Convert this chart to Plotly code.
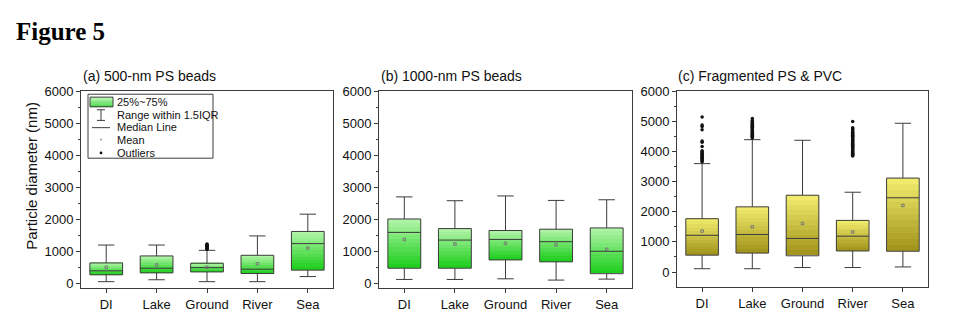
import plotly.graph_objects as go

W, H = 955, 325

categories = ["DI", "Lake", "Ground", "River", "Sea"]

# (a) 500-nm PS beads
a_lower = [50, 110, 50, 50, 210]
a_q1 = [265, 325, 355, 305, 410]
a_median = [390, 470, 490, 440, 1240]
a_q3 = [635, 855, 625, 875, 1620]
a_upper = [1195, 1195, 1030, 1480, 2160]
a_mean = [500, 570, 500, 610, 1100]
a_outliers = {"Ground": [1060, 1090, 1110, 1130, 1150, 1170, 1190, 1210, 1230]}

# (b) 1000-nm PS beads
b_lower = [120, 120, 140, 100, 130]
b_q1 = [470, 470, 730, 670, 300]
b_median = [1590, 1350, 1370, 1300, 1000]
b_q3 = [2010, 1710, 1650, 1690, 1730]
b_upper = [2700, 2580, 2730, 2590, 2610]
b_mean = [1370, 1230, 1250, 1200, 1060]
b_outliers = {}

# (c) Fragmented PS & PVC
c_lower = [110, 110, 150, 150, 170]
c_q1 = [560, 630, 540, 700, 690]
c_median = [1220, 1245, 1115, 1190, 2465]
c_q3 = [1770, 2165, 2550, 1715, 3120]
c_upper = [3600, 4395, 4375, 2650, 4940]
c_mean = [1360, 1500, 1610, 1330, 2210]
c_outliers = {
    "DI": [3660, 3690, 3720, 3750, 3780, 3810, 3840, 3870, 3900, 3930, 3960,
           3990, 4030, 4170, 4310, 4350, 4720, 4830, 4880, 5150],
    "Lake": [4450, 4480, 4510, 4540, 4570, 4600, 4630, 4660, 4690, 4720, 4750,
             4780, 4810, 4840, 4870, 4900, 4930, 4960, 4990, 5030, 5100],
    "River": [3850, 3880, 3910, 3940, 3970, 4000, 4030, 4060, 4090, 4120, 4150,
              4180, 4210, 4240, 4270, 4300, 4330, 4360, 4390, 4420, 4450, 4480,
              4510, 4540, 4570, 4600, 4640, 4680, 4720, 4760, 4790, 5000],
}

titles = ["(a) 500-nm PS beads", "(b) 1000-nm PS beads", "(c) Fragmented PS & PVC"]
y_title = "Particle diameter (nm)"
legend_labels = ["25%~75%", "Range within 1.5IQR", "Median Line", "Mean", "Outliers"]

GREEN = ((25, 205, 25), (182, 246, 172))     # bottom, top
YELLOW = ((160, 145, 25), (243, 239, 112))
EDGE = "#3c3c3c"
FONT = "Liberation Sans, Arial, sans-serif"
BOX_W = 0.65
N_BANDS = 12


def px_x(x):
    return x / W


def px_y(y):
    return 1 - y / H


def mix(c0, c1, t):
    return "rgb({},{},{})".format(*[round(a + (b - a) * t) for a, b in zip(c0, c1)])


panels = [
    dict(lower=a_lower, q1=a_q1, med=a_median, q3=a_q3, upper=a_upper, mean=a_mean,
         out=a_outliers, colors=GREEN, xdom=(81, 333), ydom=(87, 290), yrange=(-150, 6000)),
    dict(lower=b_lower, q1=b_q1, med=b_median, q3=b_q3, upper=b_upper, mean=b_mean,
         out=b_outliers, colors=GREEN, xdom=(379, 632), ydom=(87, 290), yrange=(-150, 6000)),
    dict(lower=c_lower, q1=c_q1, med=c_median, q3=c_q3, upper=c_upper, mean=c_mean,
         out=c_outliers, colors=YELLOW, xdom=(677, 928), ydom=(87, 289), yrange=(-500, 6000)),
]

fig = go.Figure()
layout_axes = {}

for i, p in enumerate(panels):
    xa = "x" if i == 0 else f"x{i + 1}"
    ya = "y" if i == 0 else f"y{i + 1}"
    # gradient fill of each box: stacked thin bars from Q1 up to Q3
    for k in range(N_BANDS):
        t = (k + 0.5) / N_BANDS
        step = [(q3 - q1) / N_BANDS for q1, q3 in zip(p["q1"], p["q3"])]
        base = [q1 + k * s for q1, s in zip(p["q1"], step)]
        fig.add_trace(go.Bar(
            x=categories, y=step, base=base, width=BOX_W,
            marker=dict(color=mix(p["colors"][0], p["colors"][1], t), line=dict(width=0)),
            xaxis=xa, yaxis=ya, showlegend=False, hoverinfo="skip"))
    fig.add_trace(go.Box(
        x=categories, q1=p["q1"], median=p["med"], q3=p["q3"],
        lowerfence=p["lower"], upperfence=p["upper"],
        width=BOX_W, whiskerwidth=0.5, boxpoints=False,
        fillcolor="rgba(0,0,0,0)", line=dict(color=EDGE, width=1),
        xaxis=xa, yaxis=ya, showlegend=False))
    fig.add_trace(go.Scatter(
        x=categories, y=p["mean"], mode="markers",
        marker=dict(symbol="square-open", size=2.5, color="#777777", line=dict(width=1)),
        xaxis=xa, yaxis=ya, showlegend=False))
    ox, oy = [], []
    for cat, vals in p["out"].items():
        ox += [cat] * len(vals)
        oy += vals
    if ox:
        fig.add_trace(go.Scatter(
            x=ox, y=oy, mode="markers",
            marker=dict(symbol="circle", size=3.5, color="#111111"),
            xaxis=xa, yaxis=ya, showlegend=False))

    x0, x1 = p["xdom"]
    yt, yb = p["ydom"]
    layout_axes["xaxis" if i == 0 else f"xaxis{i + 1}"] = dict(
        domain=[px_x(x0), px_x(x1)], anchor=ya,
        type="category", categoryorder="array", categoryarray=categories,
        range=[-0.5, 4.5], showline=True, mirror=True, linecolor=EDGE, linewidth=1,
        ticks="outside", ticklen=4, tickcolor=EDGE, showgrid=False, zeroline=False,
        tickfont=dict(family=FONT, size=13, color="#111111"))
    layout_axes["yaxis" if i == 0 else f"yaxis{i + 1}"] = dict(
        domain=[px_y(yb), px_y(yt)], anchor=xa, range=list(p["yrange"]),
        tickvals=[0, 1000, 2000, 3000, 4000, 5000, 6000],
        showline=True, mirror=True, linecolor=EDGE, linewidth=1,
        ticks="outside", ticklen=4, tickcolor=EDGE, showgrid=False, zeroline=False,
        minor=dict(tickvals=[500, 1500, 2500, 3500, 4500, 5500], ticks="outside",
                   ticklen=2, tickcolor=EDGE),
        tickfont=dict(family=FONT, size=13, color="#111111"))

annotations = [
    dict(text="<b>Figure 5</b>", x=px_x(14), y=px_y(25), xref="paper", yref="paper",
         xanchor="left", yanchor="middle", showarrow=False,
         font=dict(family="Liberation Serif, Times New Roman, serif", size=25, color="#000")),
    dict(text=y_title, x=px_x(32), y=px_y(174), xref="paper", yref="paper",
         textangle=-90, xanchor="center", yanchor="middle", showarrow=False,
         font=dict(family=FONT, size=15, color="#111111")),
]
for t, xl in zip(titles, [82, 380, 677]):
    annotations.append(dict(text=t, x=px_x(xl - 1), y=px_y(71), xref="paper", yref="paper",
                            xanchor="left", yanchor="middle", showarrow=False,
                            font=dict(family=FONT, size=14, color="#111111")))

# legend drawn inside panel (a)
shapes = [dict(type="rect", xref="paper", yref="paper", x0=px_x(88), x1=px_x(213),
               y0=px_y(156), y1=px_y(90), line=dict(color=EDGE, width=1),
               fillcolor="white", layer="above")]
sw_top, sw_bot = 93, 103
for k in range(N_BANDS):
    t = (k + 0.5) / N_BANDS
    yb_ = sw_bot - k * (sw_bot - sw_top) / N_BANDS
    yt_ = sw_bot - (k + 1) * (sw_bot - sw_top) / N_BANDS
    shapes.append(dict(type="rect", xref="paper", yref="paper", x0=px_x(90), x1=px_x(113),
                       y0=px_y(yb_), y1=px_y(yt_), line=dict(width=0),
                       fillcolor=mix(GREEN[0], GREEN[1], t), layer="above"))
shapes.append(dict(type="rect", xref="paper", yref="paper", x0=px_x(90), x1=px_x(113),
                   y0=px_y(sw_bot), y1=px_y(sw_top), line=dict(color=EDGE, width=1),
                   layer="above"))
# whisker glyph
for seg in [((101, 106), (101, 117)), ((97, 106), (105, 106)), ((97, 117), (105, 117))]:
    (xa_, ya_), (xb_, yb2) = seg
    shapes.append(dict(type="line", xref="paper", yref="paper", x0=px_x(xa_), y0=px_y(ya_),
                       x1=px_x(xb_), y1=px_y(yb2), line=dict(color=EDGE, width=1),
                       layer="above"))
# median glyph
shapes.append(dict(type="line", xref="paper", yref="paper", x0=px_x(92), y0=px_y(124.5),
                   x1=px_x(110), y1=px_y(124.5), line=dict(color=EDGE, width=1), layer="above"))
# mean glyph
shapes.append(dict(type="rect", xref="paper", yref="paper", x0=px_x(100.5), y0=px_y(137.5),
                   x1=px_x(101.8), y1=px_y(136.2), line=dict(color="#888", width=0.6),
                   layer="above"))
# outlier glyph
shapes.append(dict(type="circle", xref="paper", yref="paper", x0=px_x(99.6), y0=px_y(152),
                   x1=px_x(102.4), y1=px_y(149.2), line=dict(width=0), fillcolor="#111",
                   layer="above"))
for lbl, yy in zip(legend_labels, [98, 111.3, 124, 137, 150.3]):
    annotations.append(dict(text=lbl, x=px_x(115), y=px_y(yy), xref="paper", yref="paper",
                            xanchor="left", yanchor="middle", showarrow=False,
                            font=dict(family=FONT, size=11, color="#111111")))

fig.update_layout(
    width=W, height=H, autosize=False,
    margin=dict(l=0, r=0, t=0, b=0, pad=0),
    paper_bgcolor="white", plot_bgcolor="white",
    barmode="overlay", boxmode="overlay", bargap=0,
    showlegend=False,
    annotations=annotations, shapes=shapes,
    **layout_axes,
)

fig.write_html("out.html")
